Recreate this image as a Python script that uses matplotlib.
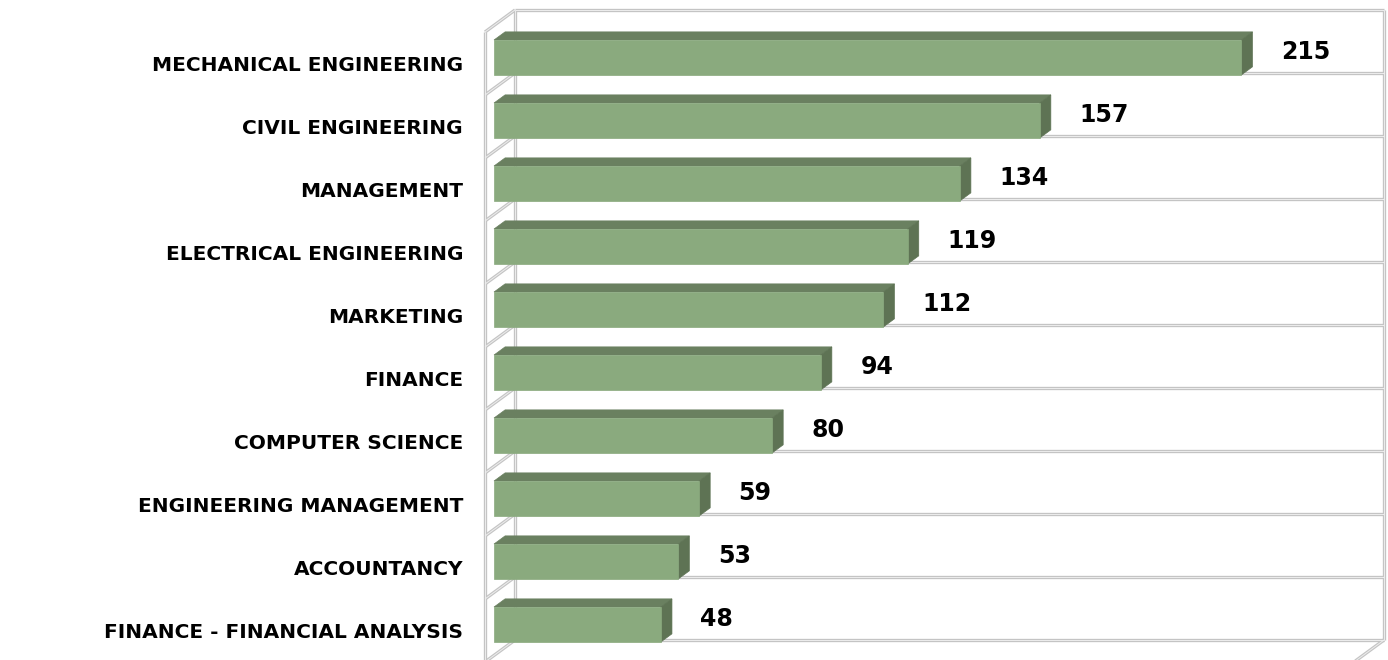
import matplotlib
matplotlib.use("Agg")
import matplotlib.pyplot as plt
from matplotlib.patches import Polygon

categories = ["MECHANICAL ENGINEERING", "CIVIL ENGINEERING", "MANAGEMENT",
              "ELECTRICAL ENGINEERING", "MARKETING", "FINANCE",
              "COMPUTER SCIENCE", "ENGINEERING MANAGEMENT", "ACCOUNTANCY",
              "FINANCE - FINANCIAL ANALYSIS"]
values = [215, 157, 134, 119, 112, 94, 80, 59, 53, 48]
axis_max = 250

W, H = 1388, 660
fig = plt.figure(figsize=(W / 100, H / 100), dpi=100)
# back wall of the 3D plot area in pixels
wl, wr, wt, wb = 515, 1384, 10, 640
ax = fig.add_axes([wl / W, (H - wb) / H, (wr - wl) / W, (wb - wt) / H])
n = len(categories)
ax.set_xlim(0, axis_max)
ax.set_ylim(n, 0)
ax.axis("off")

px_per_val = (wr - wl) / axis_max
px_per_row = (wb - wt) / n
DX = -30 / px_per_val
DY = 22 / px_per_row


def P(v, r, d):
    return (v + DX * d, r + DY * d)


grid_dark = "#C4C4C4"
grid_light = "#EDEDED"


def gline(p0, p1, z=1):
    xs = [p0[0], p1[0]]
    ys = [p0[1], p1[1]]
    ax.plot(xs, ys, color=grid_dark, lw=2.4, solid_capstyle="butt", zorder=z, clip_on=False)
    ax.plot(xs, ys, color=grid_light, lw=0.7, solid_capstyle="butt", zorder=z + 0.1, clip_on=False)


# back wall edges and gridlines
for k in range(n + 1):
    gline(P(0, k, 0), P(axis_max, k, 0))
    gline(P(0, k, 0), P(0, k, 1))
gline(P(0, 0, 0), P(0, n, 0))
gline(P(axis_max, 0, 0), P(axis_max, n, 0))
gline(P(0, 0, 1), P(0, n + 0.05, 1))
gline(P(axis_max, n, 0), P(axis_max, n, 1))

front_c = "#8AAA7E"
top_c = "#6A8060"
side_c = "#5E7354"
d_front, d_back = 0.70, 0.33
h0, h1 = 0.232, 0.787

for i, v in enumerate(values):
    r0, r1 = i + h0, i + h1
    front = [P(0, r0, d_front), P(v, r0, d_front), P(v, r1, d_front), P(0, r1, d_front)]
    top = [P(0, r0, d_front), P(v, r0, d_front), P(v, r0, d_back), P(0, r0, d_back)]
    side = [P(v, r0, d_front), P(v, r0, d_back), P(v, r1, d_back), P(v, r1, d_front)]
    for poly, c in ((top, top_c), (side, side_c), (front, front_c)):
        ax.add_patch(Polygon(poly, closed=True, facecolor=c, edgecolor=c,
                             lw=0.5, zorder=3, clip_on=False))
    lx, ly = P(v, i + 0.5, 0.515)
    ax.annotate(str(v), (lx, ly), xytext=(34, 1), textcoords="offset pixels",
                ha="left", va="center", fontsize=17, fontweight="bold",
                family=["DejaVu Sans"], color="black", zorder=5,
                annotation_clip=False)

for i, cat in enumerate(categories):
    cx, cy = P(0, i + 0.5, 1)
    ax.annotate(cat, (cx, cy), xytext=(-22, -2), textcoords="offset pixels",
                ha="right", va="center", fontsize=14.5, fontweight="bold",
                family=["DejaVu Sans"], color="black", annotation_clip=False)

fig.savefig("out.png", dpi=100, facecolor="white")
